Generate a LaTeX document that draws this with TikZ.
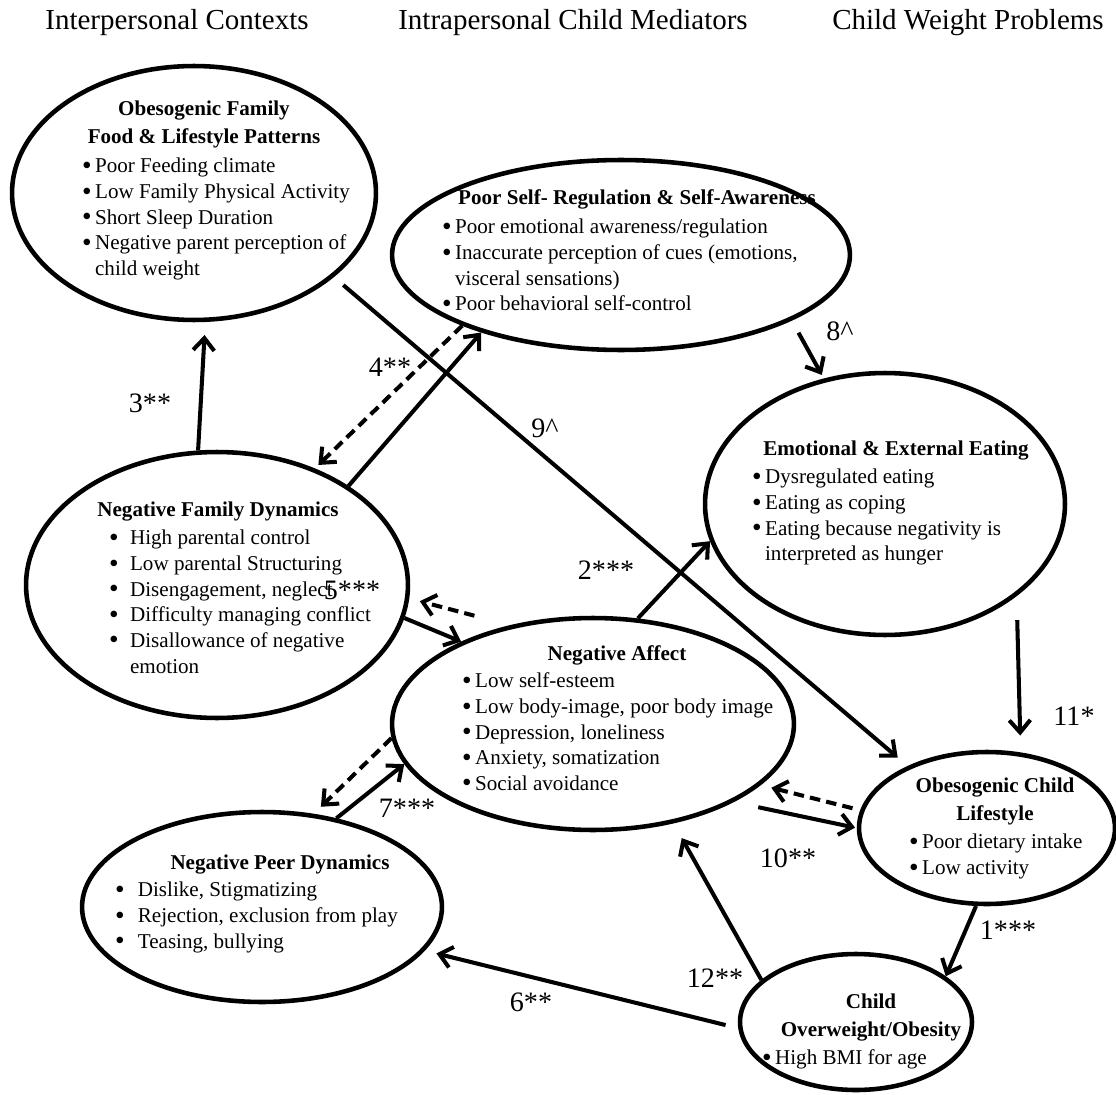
\documentclass[tikz,border=0pt]{standalone}
\usepackage{fontspec}
\setmainfont{Liberation Serif}
\usetikzlibrary{arrows.meta,shapes.geometric}

\newcommand{\bigdot}{\raisebox{-0.8pt}{\scalebox{1.3}{\textbullet}}}
\newcommand{\bul}{\bigdot\,}
\newcommand{\nobul}{\phantom{\bigdot\,}}
\newcommand{\ibul}{\makebox[12pt][l]{\bigdot}}
\newcommand{\noibul}{\makebox[12pt][l]{}}
\newcommand{\pbul}{\makebox[13pt][l]{\bigdot}}

\tikzset{
  oval/.style={draw,ellipse,line width=2.6pt,inner sep=0pt},
  head/.style={inner sep=0pt,anchor=north,font=\bfseries\fontsize{12}{15.9}\selectfont},
  items/.style={inner sep=0pt,anchor=north west,font=\fontsize{12}{14.6}\selectfont},
  num/.style={inner sep=0pt,font=\fontsize{16}{19}\selectfont},
  side/.style={inner sep=0pt,anchor=base,font=\fontsize{16.5}{20}\selectfont},
  dashd/.style={dash pattern=on 6pt off 3.5pt}
}

\begin{document}
\begin{tikzpicture}[x=0.02cm,y=-0.02cm,->,>={Straight Barb[length=7pt,width=12pt]},line width=2.3pt]
 \useasboundingbox (0,0) rectangle (1116,1095);

 % column titles
 \node[side] (tinter) at (177,30) {Interpersonal Contexts};
 \node[side] (tintra) at (573,30) {Intrapersonal Child Mediators};
 \node[side] (tweight) at (968,30) {Child Weight Problems};

 % ovals
 \node[oval,minimum width=7.28cm,minimum height=5.08cm] (fam) at (194,193) {};
 \node[oval,minimum width=9.16cm,minimum height=3.80cm] (selfreg) at (621,255) {};
 \node[oval,minimum width=7.20cm,minimum height=5.24cm] (eat) at (885,504) {};
 \node[oval,minimum width=7.64cm,minimum height=5.32cm] (dyn) at (217,585) {};
 \node[oval,minimum width=8.04cm,minimum height=4.24cm] (aff) at (593,724) {};
 \node[oval,minimum width=5.12cm,minimum height=3.04cm] (life) at (987,828) {};
 \node[oval,minimum width=7.20cm,minimum height=3.80cm] (peer) at (262,907) {};
 \node[oval,minimum width=4.64cm,minimum height=2.72cm] (obes) at (856,1022) {};

 % texts
 \node[head] (famhead) at (204,94) {\begin{tabular}{@{}c@{}}Obesogenic Family\\Food \& Lifestyle Patterns\end{tabular}};
 \node[items] (famlist) at (80,153) {\begin{tabular}{@{}l@{}}
   \bul Poor Feeding climate\\
   \bul Low Family Physical Activity\\
   \bul Short Sleep Duration\\
   \bul Negative parent perception of\\
   \nobul child weight\end{tabular}};

 \node[head] (selfreghead) at (637,183) {\begin{tabular}{@{}c@{}}Poor Self- Regulation \& Self-Awareness\end{tabular}};
 \node[items] (selfreglist) at (440,214) {\begin{tabular}{@{}l@{}}
   \bul Poor emotional awareness/regulation\\
   \bul Inaccurate perception of cues (emotions,\\
   \nobul visceral sensations)\\
   \bul Poor behavioral self-control\end{tabular}};

 \node[head] (eathead) at (896,434) {\begin{tabular}{@{}c@{}}Emotional \& External Eating\end{tabular}};
 \node[items] (eatlist) at (750,464) {\begin{tabular}{@{}l@{}}
   \bul Dysregulated eating\\
   \bul Eating as coping\\
   \bul Eating because negativity is\\
   \nobul interpreted as hunger\end{tabular}};

 \node[head] (dynhead) at (218,495) {\begin{tabular}{@{}c@{}}Negative Family Dynamics\end{tabular}};
 \node[items] (dynlist) at (107,525) {\begin{tabular}{@{}l@{}}
   \ibul High parental control\\
   \ibul Low parental Structuring\\
   \ibul Disengagement, neglect\\
   \ibul Difficulty managing conflict\\
   \ibul Disallowance of negative\\
   \noibul emotion\end{tabular}};

 \node[head] (affhead) at (617,639) {\begin{tabular}{@{}c@{}}Negative Affect\end{tabular}};
 \node[items] (afflist) at (460,668) {\begin{tabular}{@{}l@{}}
   \bul Low self-esteem\\
   \bul Low body-image, poor body image\\
   \bul Depression, loneliness\\
   \bul Anxiety, somatization\\
   \bul Social avoidance\end{tabular}};

 \node[head] (lifehead) at (995,771) {\begin{tabular}{@{}c@{}}Obesogenic Child\\Lifestyle\end{tabular}};
 \node[items] (lifelist) at (907,829) {\begin{tabular}{@{}l@{}}
   \bul Poor dietary intake\\
   \bul Low activity\end{tabular}};

 \node[head] (peerhead) at (280,848) {\begin{tabular}{@{}c@{}}Negative Peer Dynamics\end{tabular}};
 \node[items] (peerlist) at (113,877) {\begin{tabular}{@{}l@{}}
   \pbul Dislike, Stigmatizing\\
   \pbul Rejection, exclusion from play\\
   \pbul Teasing, bullying\end{tabular}};

 \node[head] (obeshead) at (871,987) {\begin{tabular}{@{}c@{}}Child\\Overweight/Obesity\end{tabular}};
 \node[items] (obeslist) at (760,1045) {\begin{tabular}{@{}l@{}}\bul High BMI for age\end{tabular}};

 % paths
 \path (dyn.98) edge [shorten >=7.4pt] (fam.-85)
       (selfreg.-156) edge [dashd,shorten >=2.8pt] (dyn.50)
       (dyn.37) edge (selfreg.-151)
       (fam.-31) edge [shorten <=7pt,shorten >=7.4pt] (life.142)
       (selfreg.-21) edge [shorten <=7.9pt,shorten >=2.3pt] (eat.116)
       (aff.67) edge (eat.-168)
       (aff.130) edge [dashd,shorten <=21pt,shorten >=6.2pt] (dyn.-4)
       (dyn.-10) edge (aff.148)
       (eat.-35) edge [shorten <=13.6pt,shorten >=9.6pt] (life.66)
       (life.172) edge [dashd,shorten <=4.5pt,shorten >=6.2pt] (aff.-20)
       (aff.-29) edge [shorten <=14.2pt,shorten >=1pt] (life.180)
       (aff.-176) edge [dashd,shorten >=5.7pt] (peer.61)
       (peer.50) edge (aff.-168)
       (life.-98) edge (obes.27)
       (obes.156) edge [shorten >=9.6pt] (aff.-51)
       (obes.-177) edge [shorten <=7.4pt,shorten >=6.8pt] (peer.-15);

 % labels
 \node[num] (n3) at (150,403) {3**};
 \node[num] (n4) at (390,367) {4**};
 \node[num] (n9) at (545,428) {9\textasciicircum};
 \node[num] (n8) at (840,331) {8\textasciicircum};
 \node[num] (n2) at (606,570) {2***};
 \node[num] (n5) at (352,590) {5***};
 \node[num] (n11) at (1074,716) {11*};
 \node[num] (n10) at (788,858) {10**};
 \node[num] (n7) at (407,808) {7***};
 \node[num] (n1) at (1008,930) {1***};
 \node[num] (n12) at (715,978) {12**};
 \node[num] (n6) at (531,1002) {6**};
\end{tikzpicture}
\end{document}
